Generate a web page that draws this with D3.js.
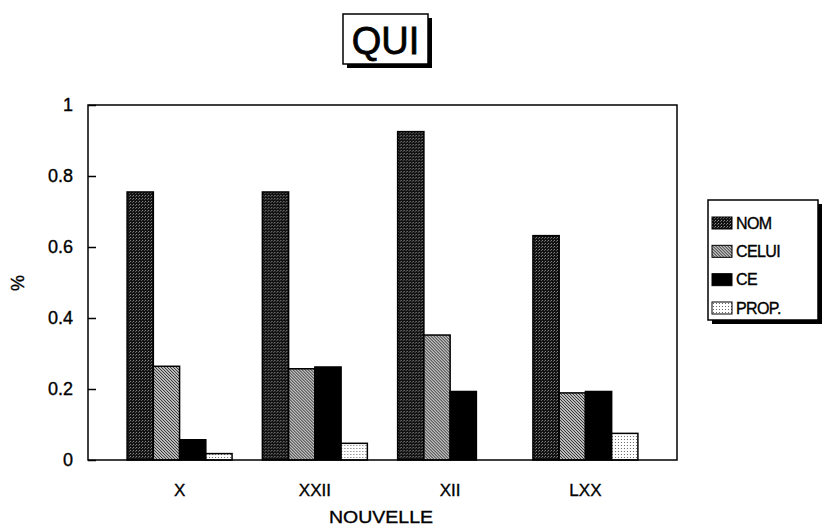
<!DOCTYPE html>
<html>
<head>
<meta charset="utf-8">
<script src="https://cdn.jsdelivr.net/npm/d3@7"></script>
<style>
  html, body { margin: 0; padding: 0; background: #fff; }
  svg { display: block; font-family: "Liberation Sans", Arial, sans-serif; }
  text { fill: #000; stroke: #000; stroke-width: 0.35px; }
</style>
</head>
<body>
<svg id="chart" width="824" height="528"></svg>
<script>
// Share of each form per nouvelle
const categories = ["X", "XXII", "XII", "LXX"];
const seriesNames = ["NOM", "CELUI", "CE", "PROP."];
const nomValues = [0.755, 0.755, 0.925, 0.632];
const celuiValues = [0.264, 0.257, 0.352, 0.189];
const ceValues = [0.057, 0.262, 0.193, 0.193];
const propValues = [0.018, 0.047, 0, 0.075];
const yTicks = [0, 0.2, 0.4, 0.6, 0.8, 1];
const yTickLabels = ["0", "0.2", "0.4", "0.6", "0.8", "1"];
const chartTitle = "QUI";
const xTitle = "NOUVELLE";
const yTitle = "%";

const seriesValues = [nomValues, celuiValues, ceValues, propValues];
const patternIds = ["pat-nom", "pat-celui", "pat-ce", "pat-prop"];

const svg = d3.select("#chart");
const defs = svg.append("defs");

// Fill patterns
const pNom = defs.append("pattern").attr("id", "pat-nom")
  .attr("patternUnits", "userSpaceOnUse").attr("width", 3).attr("height", 3);
pNom.append("rect").attr("width", 3).attr("height", 3).attr("fill", "#111");
pNom.append("rect").attr("width", 1).attr("height", 1).attr("fill", "#909090");
pNom.append("rect").attr("x", 2).attr("y", 1).attr("width", 1).attr("height", 1).attr("fill", "#606060");

const pCel = defs.append("pattern").attr("id", "pat-celui")
  .attr("patternUnits", "userSpaceOnUse").attr("width", 3).attr("height", 3);
pCel.append("rect").attr("width", 3).attr("height", 3).attr("fill", "#fff");
pCel.append("path").attr("d", "M-1,-1L4,4M-1,2L1,4M2,-1L4,1")
  .attr("stroke", "#222").attr("stroke-width", 1.1);

const pCe = defs.append("pattern").attr("id", "pat-ce")
  .attr("patternUnits", "userSpaceOnUse").attr("width", 4).attr("height", 4);
pCe.append("rect").attr("width", 4).attr("height", 4).attr("fill", "#000");

const pProp = defs.append("pattern").attr("id", "pat-prop")
  .attr("patternUnits", "userSpaceOnUse").attr("width", 3).attr("height", 3);
pProp.append("rect").attr("width", 3).attr("height", 3).attr("fill", "#fff");
pProp.append("rect").attr("x", 1).attr("y", 1).attr("width", 1).attr("height", 1).attr("fill", "#666");

// Plot area
const plot = { left: 88, right: 677, top: 105, bottom: 460 };

const x0 = d3.scaleBand().domain(categories)
  .range([plot.left, plot.right]).paddingInner(0.224).paddingOuter(0.289);
const x1 = d3.scaleBand().domain(d3.range(seriesNames.length))
  .range([0, x0.bandwidth()]);
const y = d3.scaleLinear().domain([0, 1]).range([plot.bottom, plot.top]);

// Bars
const groups = svg.append("g").selectAll("g")
  .data(categories).join("g")
  .attr("transform", d => `translate(${x0(d)},0)`);

groups.selectAll("rect")
  .data((d, i) => seriesValues.map((vals, s) => ({ s, v: vals[i] })))
  .join("rect")
  .filter(d => d.v > 0)
  .attr("x", d => x1(d.s))
  .attr("y", d => y(d.v))
  .attr("width", x1.bandwidth())
  .attr("height", d => y(0) - y(d.v))
  .attr("fill", d => `url(#${patternIds[d.s]})`)
  .attr("stroke", "#000")
  .attr("stroke-width", 1.5);

// Frame
svg.append("rect")
  .attr("x", plot.left).attr("y", plot.top)
  .attr("width", plot.right - plot.left).attr("height", plot.bottom - plot.top)
  .attr("fill", "none").attr("stroke", "#000").attr("stroke-width", 1.5);

// Y axis (ticks point inward)
const yAxis = d3.axisRight(y).tickValues(yTicks).tickSize(8).tickFormat(() => "");
const gy = svg.append("g").attr("transform", `translate(${plot.left},0)`).call(yAxis);
gy.select(".domain").remove();
gy.selectAll("line").attr("stroke", "#000").attr("stroke-width", 1.5);

svg.append("g").selectAll("text").data(yTicks).join("text")
  .attr("x", 73).attr("y", d => y(d)).attr("dy", "0.36em")
  .attr("text-anchor", "end").attr("font-size", 18)
  .text((d, i) => yTickLabels[i]);

// X axis labels
const xAxis = d3.axisBottom(x0).tickSize(0).tickPadding(23);
const gx = svg.append("g").attr("transform", `translate(0,${plot.bottom})`).call(xAxis);
gx.select(".domain").remove();
gx.selectAll("text").attr("font-size", 17).attr("dy", "0.75em")
  .attr("font-family", "Liberation Sans, Arial, sans-serif");

// Axis titles
svg.append("text").attr("x", 381).attr("y", 523)
  .attr("text-anchor", "middle").attr("font-size", 17)
  .attr("textLength", 104).attr("lengthAdjust", "spacingAndGlyphs").text(xTitle);
svg.append("text")
  .attr("transform", "translate(24,283) rotate(-90)")
  .attr("text-anchor", "middle").attr("font-size", 18).text(yTitle);

// Title box with drop shadow
const tb = { x: 343, y: 14, w: 85, h: 50 };
svg.append("rect").attr("x", tb.x + 4).attr("y", tb.y + 4)
  .attr("width", tb.w).attr("height", tb.h).attr("fill", "#000");
svg.append("rect").attr("x", tb.x).attr("y", tb.y)
  .attr("width", tb.w).attr("height", tb.h)
  .attr("fill", "#fff").attr("stroke", "#000").attr("stroke-width", 1.5);
svg.append("text").attr("x", tb.x + tb.w / 2).attr("y", tb.y + 40)
  .attr("text-anchor", "middle").attr("font-size", 38)
  .style("stroke-width", "0.8px").text(chartTitle);

// Legend with drop shadow
const lg = { x: 708, y: 200, w: 110, h: 120 };
svg.append("rect").attr("x", lg.x + 4).attr("y", lg.y + 4)
  .attr("width", lg.w).attr("height", lg.h).attr("fill", "#000");
svg.append("rect").attr("x", lg.x).attr("y", lg.y)
  .attr("width", lg.w).attr("height", lg.h)
  .attr("fill", "#fff").attr("stroke", "#000").attr("stroke-width", 1.5);

const legendY = d3.scalePoint().domain(d3.range(seriesNames.length))
  .range([lg.y + 23, lg.y + 108]);
const li = svg.append("g").selectAll("g").data(seriesNames).join("g")
  .attr("transform", (d, i) => `translate(${lg.x + 4},${legendY(i)})`);
li.append("rect").attr("x", 0).attr("y", -6).attr("width", 20).attr("height", 12)
  .attr("fill", (d, i) => `url(#${patternIds[i]})`)
  .attr("stroke", "#000").attr("stroke-width", 1);
li.append("text").attr("x", 24).attr("y", 0).attr("dy", "0.36em")
  .attr("font-size", 16).attr("letter-spacing", -0.6).text(d => d);
</script>
</body>
</html>
